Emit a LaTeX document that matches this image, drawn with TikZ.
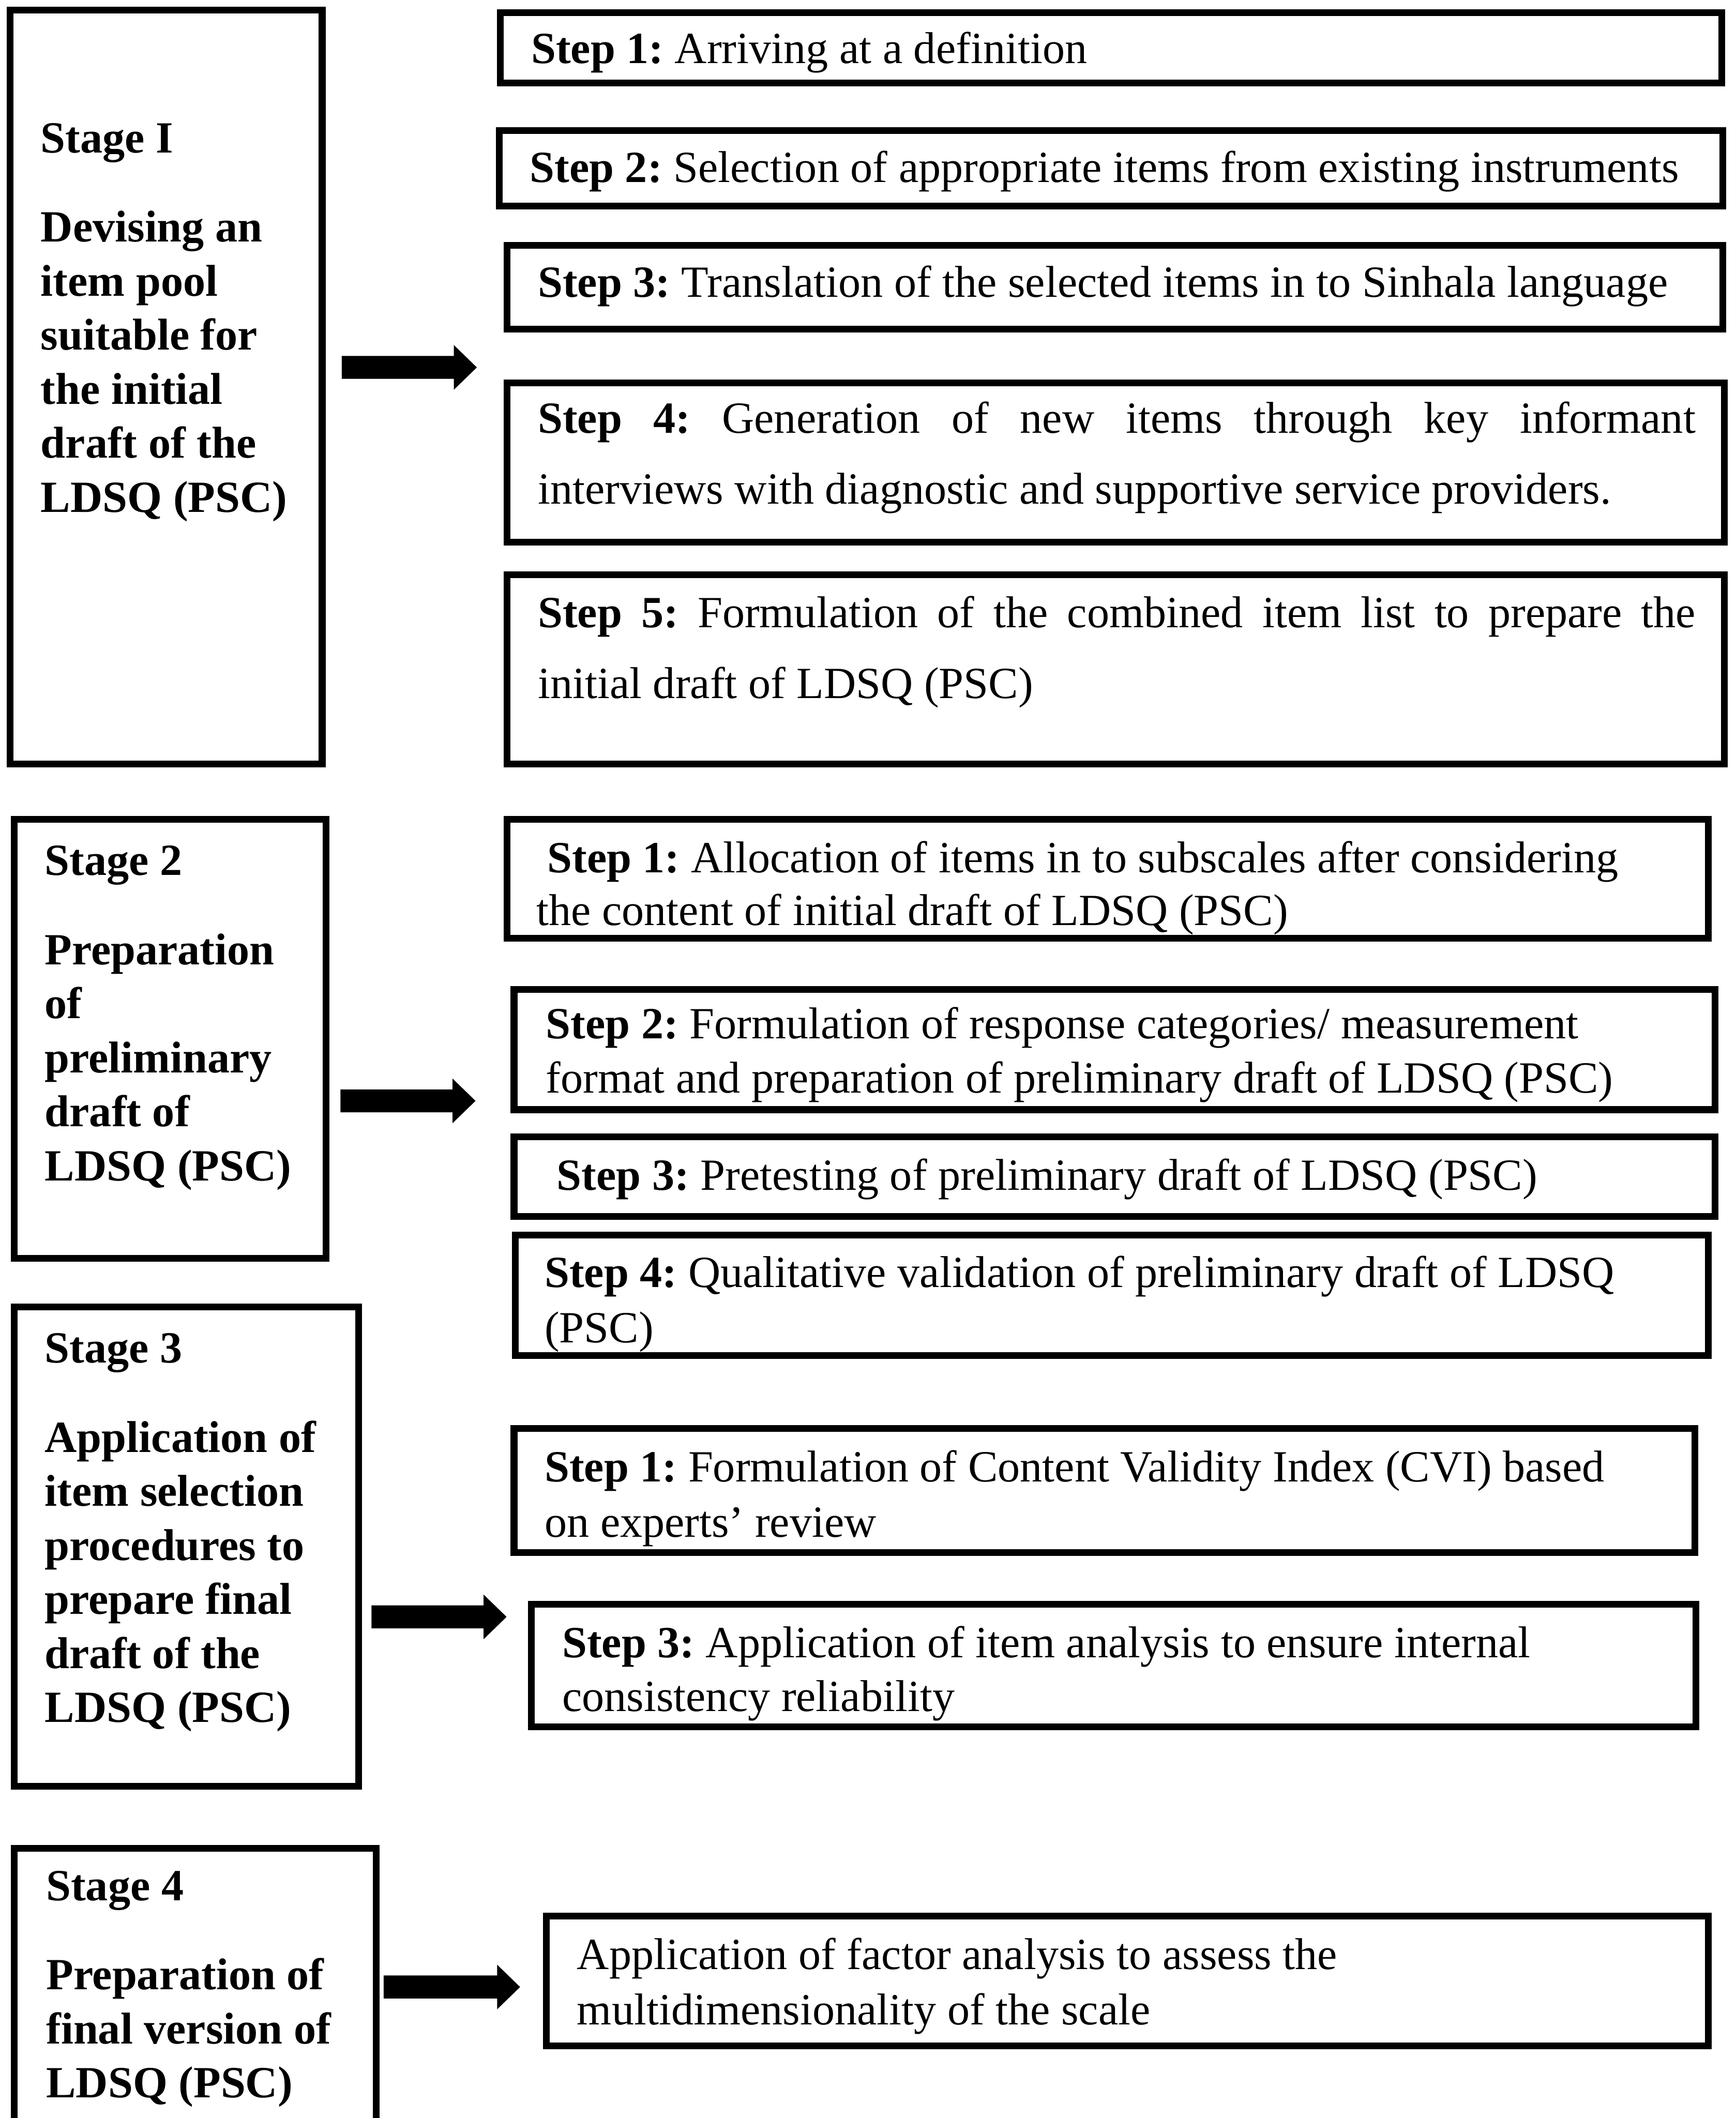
\documentclass[tikz,border=0pt]{standalone}
\usepackage{fontspec}
\setmainfont{Liberation Serif}
\usetikzlibrary{fit,calc}
\frenchspacing

% thick block arrow from a tail coordinate to a head coordinate
\newcommand\fatarrow[2]{%
  \fill ($(#1)+(0,-8.5)$) -- ($(#2)+(-17,-8.5)$) -- ($(#2)+(-17,-16.5)$) -- (#2)
        -- ($(#2)+(-17,16.5)$) -- ($(#2)+(-17,8.5)$) -- ($(#1)+(0,8.5)$) -- cycle;}

\begin{document}
\begin{tikzpicture}[x=1pt,y=-1pt,
  box/.style={draw,line width=5pt,inner sep=0pt},
  % multi-line texts are placed by the baseline of their last line
  txt/.style={anchor=base west,inner sep=0pt,align=left,font=\fontsize{33}{40}\selectfont},
  stagetxt/.style={txt,font=\fontsize{33}{40}\selectfont\bfseries},
  wide/.style={txt,font=\fontsize{33}{52.5}\selectfont}]
\fill[white] (0,0) rectangle (1285,1568);
\useasboundingbox (0,0) rectangle (1285,1568);

% ---------------- Stage I ----------------
\node[box,fit={(7.5,7.5) (238.5,565.5)}] (st1) {};
\node[stagetxt] (st1t) at (30,379) {Stage I\\[26pt]Devising an\\item pool\\suitable for\\the initial\\draft of the\\LDSQ (PSC)};

\node[box,fit={(370.5,9.5) (1274.5,61.5)}] (b1) {};
\node[txt] (b1t) at (393,47) {\textbf{Step 1:} Arriving at a definition};
\node[box,fit={(369.5,96.5) (1275.5,152.5)}] (b2) {};
\node[txt] (b2t) at (392,135) {\textbf{Step 2:} Selection of appropriate items from existing instruments};
\node[box,fit={(375.5,181.5) (1275.5,243.5)}] (b3) {};
\node[txt] (b3t) at (398,220) {\textbf{Step 3:} Translation of the selected items in to Sinhala language};
\node[box,fit={(375.5,283.5) (1276.5,401.5)}] (b4) {};
\node[wide] (b4t) at (398,373) {\makebox[857pt][s]{\textbf{Step 4:} Generation of new items through key informant}\\interviews with diagnostic and supportive service providers.};
\node[box,fit={(375.5,425.5) (1276.5,565.5)}] (b5) {};
\node[wide] (b5t) at (398,517) {\makebox[857pt][s]{\textbf{Step 5:} Formulation of the combined item list to prepare the}\\initial draft of LDSQ (PSC)};

\coordinate (a1t) at (253,272);
\coordinate (a1h) at (353,272);
\fatarrow{a1t}{a1h}

% ---------------- Stage 2 ----------------
\node[box,fit={(10.5,606.5) (241.5,931.5)}] (st2) {};
\node[stagetxt] (st2t) at (33,874) {Stage 2\\[26pt]Preparation\\of\\preliminary\\draft of\\LDSQ (PSC)};

\node[box,fit={(375.5,606.5) (1264.5,694.5)}] (c1) {};
\node[txt] (c1t) at (405,685) {\textbf{Step 1:} Allocation of items in to subscales after considering\\[-1pt]\hspace*{-8pt}the content of initial draft of LDSQ (PSC)};
\node[box,fit={(380.5,732.5) (1269.5,821.5)}] (c2) {};
\node[txt] (c2t) at (404,809) {\textbf{Step 2:} Formulation of response categories/ measurement\\format and preparation of preliminary draft of LDSQ (PSC)};
\node[box,fit={(380.5,841.5) (1269.5,900.5)}] (c3) {};
\node[txt] (c3t) at (412,881) {\textbf{Step 3:} Pretesting of preliminary draft of LDSQ (PSC)};
\node[box,fit={(381.5,914.5) (1264.5,1003.5)}] (c4) {};
\node[txt] (c4t) at (403,994) {\textbf{Step 4:} Qualitative validation of preliminary draft of LDSQ\\[1pt](PSC)};

\coordinate (a2t) at (252,815);
\coordinate (a2h) at (352,815);
\fatarrow{a2t}{a2h}

% ---------------- Stage 3 ----------------
\node[box,fit={(10.5,967.5) (265.5,1322.5)}] (st3) {};
\node[stagetxt] (st3t) at (33,1275) {Stage 3\\[26pt]Application of\\item selection\\procedures to\\prepare final\\draft of the\\LDSQ (PSC)};

\node[box,fit={(380.5,1057.5) (1254.5,1149.5)}] (d1) {};
\node[txt] (d1t) at (403,1138) {\textbf{Step 1:} Formulation of Content Validity Index (CVI) based\\[1pt]on experts’ review};
\node[box,fit={(393.5,1187.5) (1255.5,1278.5)}] (d2) {};
\node[txt] (d2t) at (416,1267) {\textbf{Step 3:} Application of item analysis to ensure internal\\consistency reliability};

\coordinate (a3t) at (275,1197);
\coordinate (a3h) at (375,1197);
\fatarrow{a3t}{a3h}

% ---------------- Stage 4 ----------------
\node[box,fit={(10.5,1368.5) (278.5,1576)}] (st4) {};
\node[stagetxt] (st4t) at (34,1553) {Stage 4\\[26pt]Preparation of\\final version of\\LDSQ (PSC)};

\node[box,fit={(404.5,1418.5) (1264.5,1514.5)}] (e1) {};
\node[txt] (e1t) at (427,1499) {Application of factor analysis to assess the\\[1pt]multidimensionality of the scale};

\coordinate (a4t) at (284,1471);
\coordinate (a4h) at (385,1471);
\fatarrow{a4t}{a4h}
\end{tikzpicture}
\end{document}
